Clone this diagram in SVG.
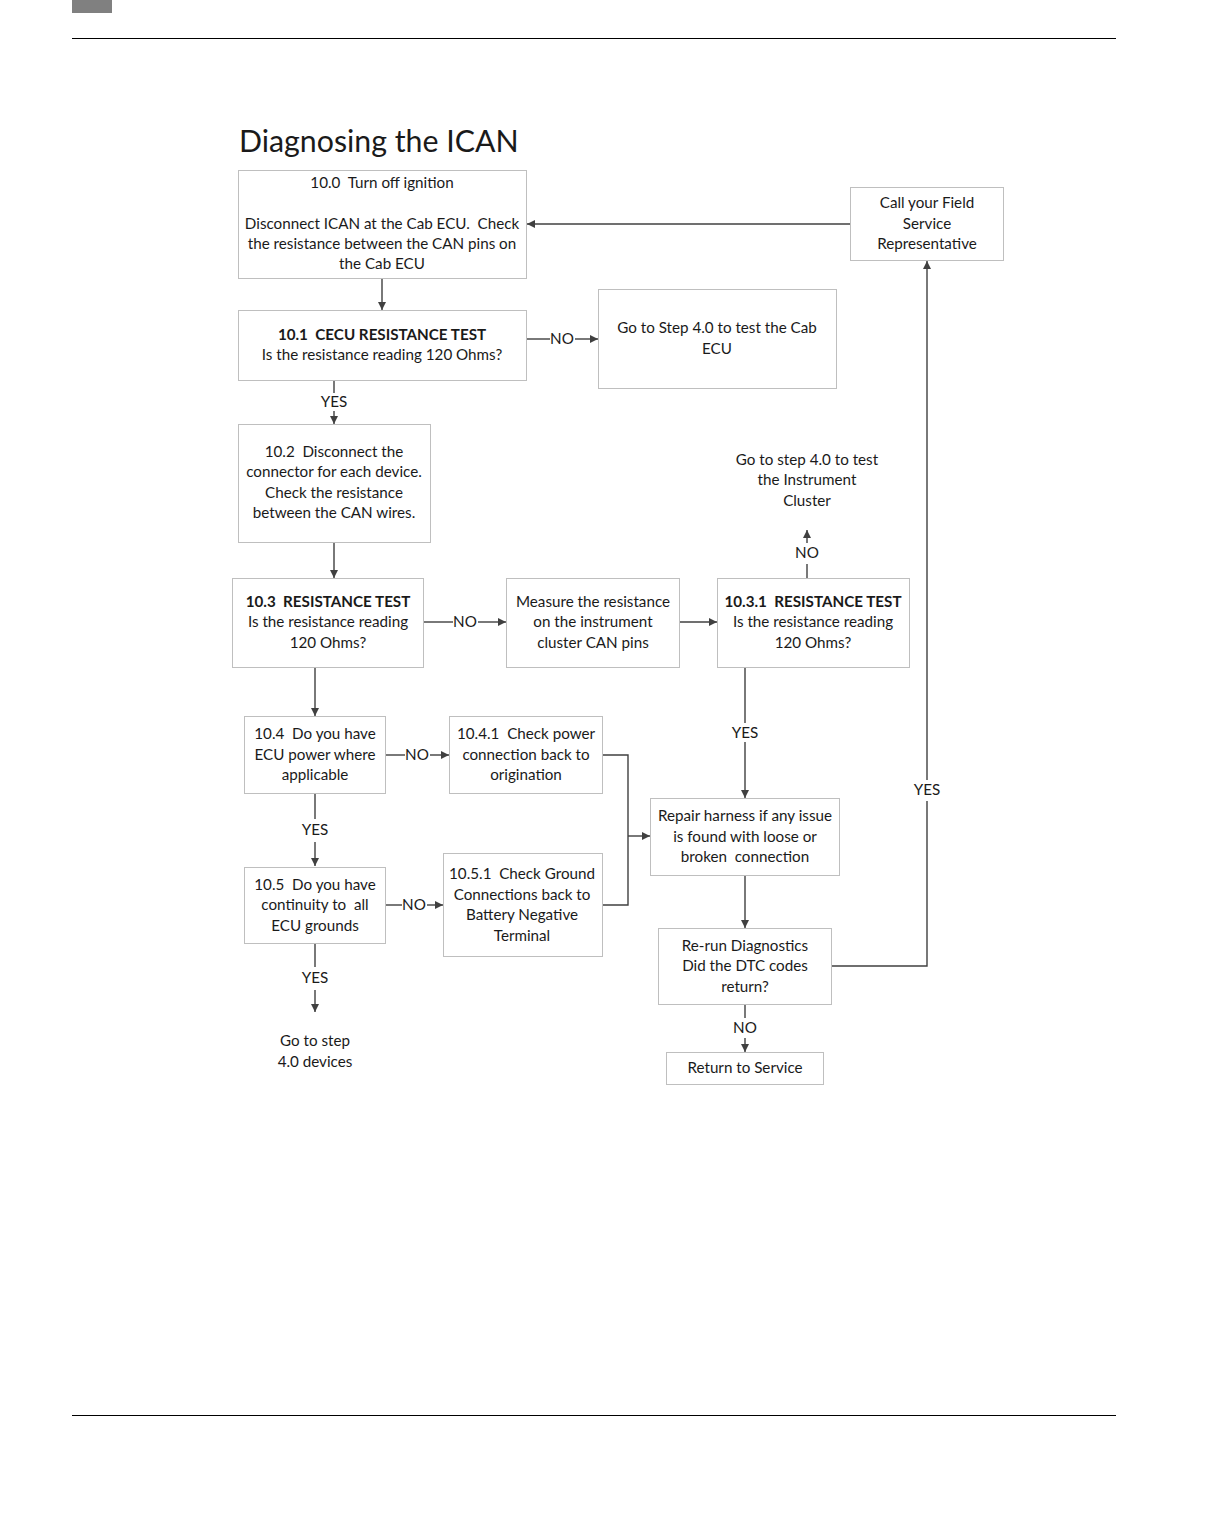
<svg xmlns="http://www.w3.org/2000/svg" width="1225" height="1525" viewBox="0 0 1225 1525">
<defs>
<marker id="ah" viewBox="0 0 10 10" refX="10" refY="5" markerWidth="8" markerHeight="8" markerUnits="userSpaceOnUse" orient="auto">
<path d="M0,0 L10,5 L0,10 Z" fill="#404040"/>
</marker>
<style>
.box{fill:#fff;stroke:#bfbfbf;stroke-width:1}
.t{font-family:Lato,"Liberation Sans",sans-serif;font-size:15.2px;fill:#1a1a1a;text-anchor:middle;white-space:pre}
.b{font-weight:bold}
.c{fill:none;stroke:#404040;stroke-width:1.4}
.a{marker-end:url(#ah)}
.title{font-family:Lato,"Liberation Sans",sans-serif;font-size:30.3px;fill:#1a1a1a}
</style>
</defs>
<rect width="1225" height="1525" fill="#fff"/>
<rect x="72" y="0" width="40" height="13" fill="#808080"/>
<line x1="72" y1="38.5" x2="1116" y2="38.5" stroke="#000" stroke-width="1"/>
<line x1="72" y1="1415.5" x2="1116" y2="1415.5" stroke="#000" stroke-width="1"/>
<text class="title" x="239" y="152">Diagnosing the ICAN</text>

<g id="connectors">
<path class="c a" d="M850,224 H527"/>
<path class="c a" d="M382,278 V310"/>
<path class="c" d="M527,339 H550"/><path class="c a" d="M575,339 H598"/>
<text class="t" x="562" y="344">NO</text>
<path class="c" d="M334,380 V393"/><path class="c a" d="M334,411 V424"/>
<text class="t" x="334" y="407">YES</text>
<path class="c a" d="M334,542 V578"/>
<path class="c" d="M424,622 H453"/><path class="c a" d="M478,622 H506"/>
<text class="t" x="465" y="627">NO</text>
<path class="c a" d="M680,622 H717"/>
<path class="c" d="M807,578 V564"/><path class="c a" d="M807,543 V530"/>
<text class="t" x="807" y="558">NO</text>
<path class="c" d="M745,667 V723"/><path class="c a" d="M745,742 V798"/>
<text class="t" x="745" y="738">YES</text>
<path class="c a" d="M745,875 V928"/>
<path class="c" d="M745,1004 V1018"/><path class="c a" d="M745,1038 V1052"/>
<text class="t" x="745" y="1033">NO</text>
<path class="c" d="M831,966 H927 V801"/><path class="c a" d="M927,780 V261"/>
<text class="t" x="927" y="795">YES</text>
<path class="c a" d="M315,667 V716"/>
<path class="c" d="M386,755 H405"/><path class="c a" d="M430,755 H449"/>
<text class="t" x="417" y="760">NO</text>
<path class="c" d="M315,793 V819"/><path class="c a" d="M315,842 V866"/>
<text class="t" x="315" y="835">YES</text>
<path class="c" d="M386,905 H402"/><path class="c a" d="M427,905 H443"/>
<text class="t" x="414" y="910">NO</text>
<path class="c" d="M602,755 H628 V905 H602"/>
<path class="c a" d="M628,836 H650"/>
<path class="c" d="M315,943 V967"/><path class="c a" d="M315,990 V1012"/>
<text class="t" x="315" y="983">YES</text>
</g>

<g id="n100">
<rect class="box" x="238.5" y="170.5" width="288" height="108"/>
<text class="t" x="382" y="188">10.0  Turn off ignition</text>
<text class="t" x="382" y="229">Disconnect ICAN at the Cab ECU.  Check</text>
<text class="t" x="382" y="249">the resistance between the CAN pins on</text>
<text class="t" x="382" y="269">the Cab ECU</text>
</g>
<g id="nField">
<rect class="box" x="850.5" y="187.5" width="153" height="73"/>
<text class="t" x="927" y="208">Call your Field</text>
<text class="t" x="927" y="229">Service</text>
<text class="t" x="927" y="249">Representative</text>
</g>
<g id="n101">
<rect class="box" x="238.5" y="310.5" width="288" height="70"/>
<text class="t b" x="382" y="340">10.1  CECU RESISTANCE TEST</text>
<text class="t" x="382" y="360">Is the resistance reading 120 Ohms?</text>
</g>
<g id="nCab">
<rect class="box" x="598.5" y="289.5" width="238" height="99"/>
<text class="t" x="717" y="333">Go to Step 4.0 to test the Cab</text>
<text class="t" x="717" y="354">ECU</text>
</g>
<g id="n102">
<rect class="box" x="238.5" y="424.5" width="192" height="118"/>
<text class="t" x="334" y="457">10.2  Disconnect the</text>
<text class="t" x="334" y="477">connector for each device.</text>
<text class="t" x="334" y="498">Check the resistance</text>
<text class="t" x="334" y="518">between the CAN wires.</text>
</g>
<g id="n103">
<rect class="box" x="232.5" y="578.5" width="191" height="89"/>
<text class="t b" x="328" y="607">10.3  RESISTANCE TEST</text>
<text class="t" x="328" y="627">Is the resistance reading</text>
<text class="t" x="328" y="648">120 Ohms?</text>
</g>
<g id="nMeasure">
<rect class="box" x="506.5" y="578.5" width="173" height="89"/>
<text class="t" x="593" y="607">Measure the resistance</text>
<text class="t" x="593" y="627">on the instrument</text>
<text class="t" x="593" y="648">cluster CAN pins</text>
</g>
<g id="n1031">
<rect class="box" x="717.5" y="578.5" width="192" height="89"/>
<text class="t b" x="813" y="607">10.3.1  RESISTANCE TEST</text>
<text class="t" x="813" y="627">Is the resistance reading</text>
<text class="t" x="813" y="648">120 Ohms?</text>
</g>
<g id="nCluster">
<text class="t" x="807" y="465">Go to step 4.0 to test</text>
<text class="t" x="807" y="485">the Instrument</text>
<text class="t" x="807" y="506">Cluster</text>
</g>
<g id="n104">
<rect class="box" x="244.5" y="716.5" width="141" height="77"/>
<text class="t" x="315" y="739">10.4  Do you have</text>
<text class="t" x="315" y="760">ECU power where</text>
<text class="t" x="315" y="780">applicable</text>
</g>
<g id="n1041">
<rect class="box" x="449.5" y="716.5" width="153" height="77"/>
<text class="t" x="526" y="739">10.4.1  Check power</text>
<text class="t" x="526" y="760">connection back to</text>
<text class="t" x="526" y="780">origination</text>
</g>
<g id="n105">
<rect class="box" x="244.5" y="867.5" width="141" height="76"/>
<text class="t" x="315" y="890">10.5  Do you have</text>
<text class="t" x="315" y="910">continuity to  all</text>
<text class="t" x="315" y="931">ECU grounds</text>
</g>
<g id="n1051">
<rect class="box" x="443.5" y="853.5" width="159" height="103"/>
<text class="t" x="522" y="879">10.5.1  Check Ground</text>
<text class="t" x="522" y="900">Connections back to</text>
<text class="t" x="522" y="920">Battery Negative</text>
<text class="t" x="522" y="941">Terminal</text>
</g>
<g id="nDevices">
<text class="t" x="315" y="1046">Go to step</text>
<text class="t" x="315" y="1067">4.0 devices</text>
</g>
<g id="nRepair">
<rect class="box" x="650.5" y="798.5" width="189" height="77"/>
<text class="t" x="745" y="821">Repair harness if any issue</text>
<text class="t" x="745" y="842">is found with loose or</text>
<text class="t" x="745" y="862">broken  connection</text>
</g>
<g id="nRerun">
<rect class="box" x="658.5" y="928.5" width="173" height="76"/>
<text class="t" x="745" y="951">Re-run Diagnostics</text>
<text class="t" x="745" y="971">Did the DTC codes</text>
<text class="t" x="745" y="992">return?</text>
</g>
<g id="nReturn">
<rect class="box" x="666.5" y="1052.5" width="157" height="32"/>
<text class="t" x="745" y="1073">Return to Service</text>
</g>
</svg>
